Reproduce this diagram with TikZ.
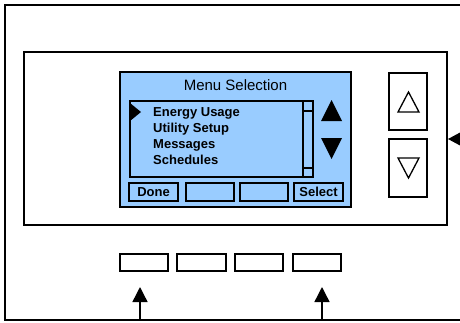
\documentclass[tikz,border=0pt]{standalone}
\usepackage{fontspec}
\setmainfont{Liberation Sans}
\usetikzlibrary{arrows.meta}
\definecolor{screenblue}{HTML}{99CCFF}
\begin{document}
\begin{tikzpicture}[x=1pt,y=-1pt,
  frameline/.style={line width=2.4pt},
  box/.style={draw, inner sep=0pt, line width=#1},
  box/.default=1.4pt,
  itemtext/.style={anchor=base west, inner sep=0pt, font=\fontsize{13}{13}\selectfont\bfseries},
  keytext/.style={font=\fontsize{13}{13}\selectfont\bfseries},
  pointer/.style={-{Triangle[length=15pt,width=15pt]}, line width=1.4pt}]
\useasboundingbox (0,0) rectangle (460,322);
% outer frame (open to the right)
\draw[frameline] (460,5) -- (5,5) -- (5,320) -- (460,320);
% bezel
\node[box=2.2pt, minimum width=423pt, minimum height=173pt] (bezel) at (235.5,138.5) {};
% screen
\node[box=1.8pt, fill=screenblue, minimum width=231pt, minimum height=135pt] (screen) at (235.5,139.5) {};
\node[anchor=base, inner sep=0pt, font=\fontsize{15}{15}\selectfont] (title) at (235.5,90.7) {Menu Selection};
% list box
\node[box=1.6pt, minimum width=183pt, minimum height=76pt] (list) at (221.5,139) {};
\draw[line width=1.3pt] (303,101) -- (303,177);
\draw[line width=1.3pt] (303,111) -- (313,111);
\draw[line width=1.3pt] (303,168) -- (313,168);
\fill (130,103) -- (130,121) -- (141,112) -- cycle;
\node[itemtext] (i1) at (153,116.7) {Energy Usage};
\node[itemtext] (i2) at (153,132.7) {Utility Setup};
\node[itemtext] (i3) at (153,148.3) {Messages};
\node[itemtext] (i4) at (153,164.3) {Schedules};
% scroll arrows
\fill (321,121) -- (342,121) -- (331.5,100) -- cycle;
\fill (321,138) -- (342,138) -- (331.5,159) -- cycle;
% soft keys
\node[box=1.6pt, minimum width=49pt, minimum height=18pt, keytext] (done) at (153.5,192) {Done};
\node[box=1.6pt, minimum width=48pt, minimum height=18pt] (k2) at (210,192) {};
\node[box=1.6pt, minimum width=48pt, minimum height=18pt] (k3) at (264,192) {};
\node[box=1.6pt, minimum width=49pt, minimum height=18pt, keytext] (select) at (318.5,192) {Select};
% right buttons
\node[box=1.4pt, minimum width=38pt, minimum height=57pt] (up) at (408,101.5) {};
\node[box=1.4pt, minimum width=38pt, minimum height=58pt] (down) at (408,168) {};
\draw[line width=1.3pt, line join=miter] (398,112) -- (419,112) -- (408.5,92) -- cycle;
\draw[line width=1.3pt, line join=miter] (398,158) -- (419,158) -- (408.5,178) -- cycle;
% right pointer
\fill (461,132) -- (461,146) -- (448,139) -- cycle;
% bottom buttons
\node[box=1.4pt, minimum width=48pt, minimum height=17pt] (b1) at (144,262.5) {};
\node[box=1.4pt, minimum width=49pt, minimum height=17pt] (b2) at (201.5,262.5) {};
\node[box=1.4pt, minimum width=48pt, minimum height=17pt] (b3) at (259,262.5) {};
\node[box=1.4pt, minimum width=48pt, minimum height=17pt] (b4) at (317,262.5) {};
% arrows
\coordinate (a1s) at (140,320);
\coordinate (a1e) at (140,287);
\coordinate (a4s) at (322,320);
\coordinate (a4e) at (322,287);
\draw[pointer] (a1s) -- (a1e);
\draw[pointer] (a4s) -- (a4e);
\end{tikzpicture}
\end{document}
